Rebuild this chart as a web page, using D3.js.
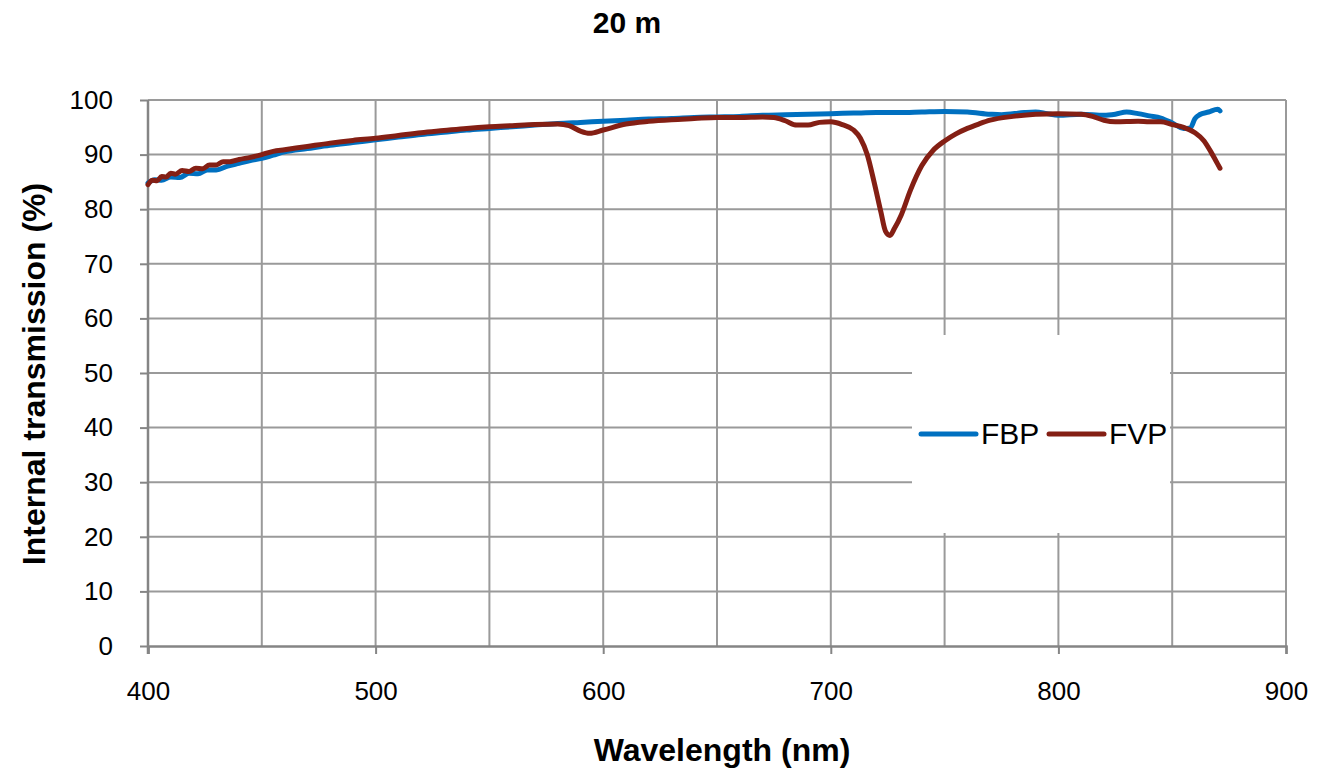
<!DOCTYPE html>
<html>
<head>
<meta charset="utf-8">
<script src="https://cdn.jsdelivr.net/npm/d3@7"></script>
<style>
  body { margin: 0; background: #fff; }
  text { font-family: Arial, "Liberation Sans", sans-serif; }
</style>
</head>
<body>
<svg width="1317" height="772"></svg>
<script>
// wavelengths (nm) and internal transmission (%)
const fbpWave = [400, 403, 406, 410, 414, 418, 422, 426, 430, 435, 440, 445, 450, 455, 460, 470, 480, 490, 500, 510, 520, 530, 540, 550, 560, 570, 580, 590, 600, 610, 620, 630, 640, 650, 660, 670, 680, 690, 700, 710, 720, 730, 740, 750, 760, 770, 775, 785, 790, 795, 800, 810, 820, 825, 830, 835, 840, 845, 850, 855, 858, 860, 862, 866, 870, 871];
const fbpVals = [84.8, 85.4, 85.3, 85.9, 85.8, 86.6, 86.5, 87.2, 87.2, 87.9, 88.4, 88.9, 89.3, 89.9, 90.5, 91.1, 91.7, 92.2, 92.7, 93.2, 93.7, 94.1, 94.5, 94.8, 95.1, 95.4, 95.7, 95.9, 96.1, 96.3, 96.5, 96.6, 96.8, 96.9, 97.0, 97.2, 97.3, 97.4, 97.5, 97.6, 97.7, 97.7, 97.8, 97.9, 97.8, 97.4, 97.3, 97.7, 97.8, 97.5, 97.2, 97.4, 97.2, 97.4, 97.8, 97.5, 97.1, 96.7, 95.8, 94.8, 94.9, 96.6, 97.3, 97.8, 98.3, 98.0];

const fvpWave = [400, 402, 404, 406, 408, 410, 412, 415, 418, 421, 424, 427, 430, 433, 436, 440, 445, 450, 455, 460, 470, 480, 490, 500, 510, 520, 530, 540, 550, 560, 570, 580, 585, 590, 594, 600, 610, 620, 630, 640, 650, 660, 670, 675, 680, 685, 690, 695, 700, 705, 710, 713, 716, 719, 722, 724, 726, 728, 731, 735, 740, 745, 750, 755, 760, 765, 770, 780, 790, 800, 810, 815, 820, 825, 835, 840, 845, 850, 855, 860, 864, 867, 869, 871];
const fvpVals = [84.5, 85.3, 85.2, 86.0, 85.9, 86.6, 86.4, 87.1, 86.9, 87.5, 87.4, 88.1, 88.1, 88.7, 88.7, 89.1, 89.5, 90.0, 90.6, 90.9, 91.5, 92.1, 92.6, 93.0, 93.5, 94.0, 94.4, 94.8, 95.1, 95.3, 95.5, 95.6, 95.3, 94.3, 93.9, 94.5, 95.6, 96.1, 96.4, 96.6, 96.8, 96.8, 96.9, 96.8, 96.2, 95.4, 95.4, 95.9, 96.0, 95.5, 94.5, 93.0, 90.0, 85.0, 79.5, 76.0, 75.2, 76.5, 79.0, 83.5, 88.0, 90.8, 92.5, 93.8, 94.8, 95.6, 96.3, 97.0, 97.4, 97.5, 97.4, 97.0, 96.3, 96.0, 96.1, 96.0, 96.0, 95.5, 95.0, 94.0, 92.5, 90.5, 89.0, 87.5];

const seriesNames = ["FBP", "FVP"];
const seriesColors = ["#0070C0", "#841F14"];
const xTicks = [400, 500, 600, 700, 800, 900];
const xGrid = [450, 500, 550, 600, 650, 700, 750, 800, 850, 900];
const yTicks = [0, 10, 20, 30, 40, 50, 60, 70, 80, 90, 100];

const margin = { top: 100, right: 31, bottom: 126, left: 148 };
const width = 1317 - margin.left - margin.right;
const height = 772 - margin.top - margin.bottom;

const svg = d3.select("svg");
const g = svg.append("g").attr("transform", `translate(${margin.left},${margin.top})`);

const x = d3.scaleLinear().domain([400, 900]).range([0, width]);
const y = d3.scaleLinear().domain([0, 100]).range([height, 0]);

// grid
g.append("g").selectAll("line").data(yTicks.slice(1)).join("line")
    .attr("x1", 0).attr("x2", width)
    .attr("y1", d => y(d)).attr("y2", d => y(d))
    .attr("stroke", "#9a9a9a").attr("stroke-width", 2);

g.append("g").selectAll("line").data(xGrid).join("line")
    .attr("x1", d => x(d)).attr("x2", d => x(d))
    .attr("y1", 0).attr("y2", height)
    .attr("stroke", "#9a9a9a").attr("stroke-width", 2);

// axes
const yAxis = g.append("g")
    .call(d3.axisLeft(y).tickValues(yTicks).tickSize(8).tickPadding(27));
const xAxis = g.append("g")
    .attr("transform", `translate(0,${height})`)
    .call(d3.axisBottom(x).tickValues(xTicks).tickSize(8).tickPadding(28));

[yAxis, xAxis].forEach(a => {
    a.select(".domain").attr("stroke", "#858585").attr("stroke-width", 2.5);
    a.selectAll(".tick line").attr("stroke", "#858585").attr("stroke-width", 2);
    a.selectAll(".tick text")
        .attr("fill", "#000")
        .style("font-size", "26px")
        .style("font-family", "Arial, 'Liberation Sans', sans-serif");
});
yAxis.select(".domain").attr("d", `M0,${height + 8}V0`);

// legend background (drawn over grid, under lines)
g.append("rect")
    .attr("x", 764).attr("y", 235)
    .attr("width", 258).attr("height", 198)
    .attr("fill", "#fff");

// lines
const line = d3.line()
    .x(d => x(d[0]))
    .y(d => y(d[1]))
    .curve(d3.curveMonotoneX);

const series = [
    d3.zip(fbpWave, fbpVals),
    d3.zip(fvpWave, fvpVals)
];

series.forEach((s, i) => {
    g.append("path")
        .datum(s)
        .attr("fill", "none")
        .attr("stroke", seriesColors[i])
        .attr("stroke-width", 5)
        .attr("stroke-linecap", "round")
        .attr("stroke-linejoin", "round")
        .attr("d", line);
});

// legend
const legend = g.append("g").attr("transform", "translate(773,334)");
seriesNames.forEach((name, i) => {
    const lx = i * 128;
    legend.append("line")
        .attr("x1", lx).attr("x2", lx + 55)
        .attr("y1", 0).attr("y2", 0)
        .attr("stroke", seriesColors[i])
        .attr("stroke-width", 5)
        .attr("stroke-linecap", "round");
    legend.append("text")
        .attr("x", lx + 60).attr("y", 10)
        .style("font-size", "30px")
        .text(name);
});

// titles
svg.append("text")
    .attr("x", 627).attr("y", 33)
    .attr("text-anchor", "middle")
    .style("font-size", "30px").style("font-weight", "bold")
    .text("20 m");

svg.append("text")
    .attr("x", 722).attr("y", 761)
    .attr("text-anchor", "middle")
    .style("font-size", "32px").style("font-weight", "bold")
    .text("Wavelength (nm)");

svg.append("text")
    .attr("transform", `translate(45,374) rotate(-90)`)
    .attr("text-anchor", "middle")
    .style("font-size", "32px").style("font-weight", "bold")
    .text("Internal transmission (%)");
</script>
</body>
</html>
